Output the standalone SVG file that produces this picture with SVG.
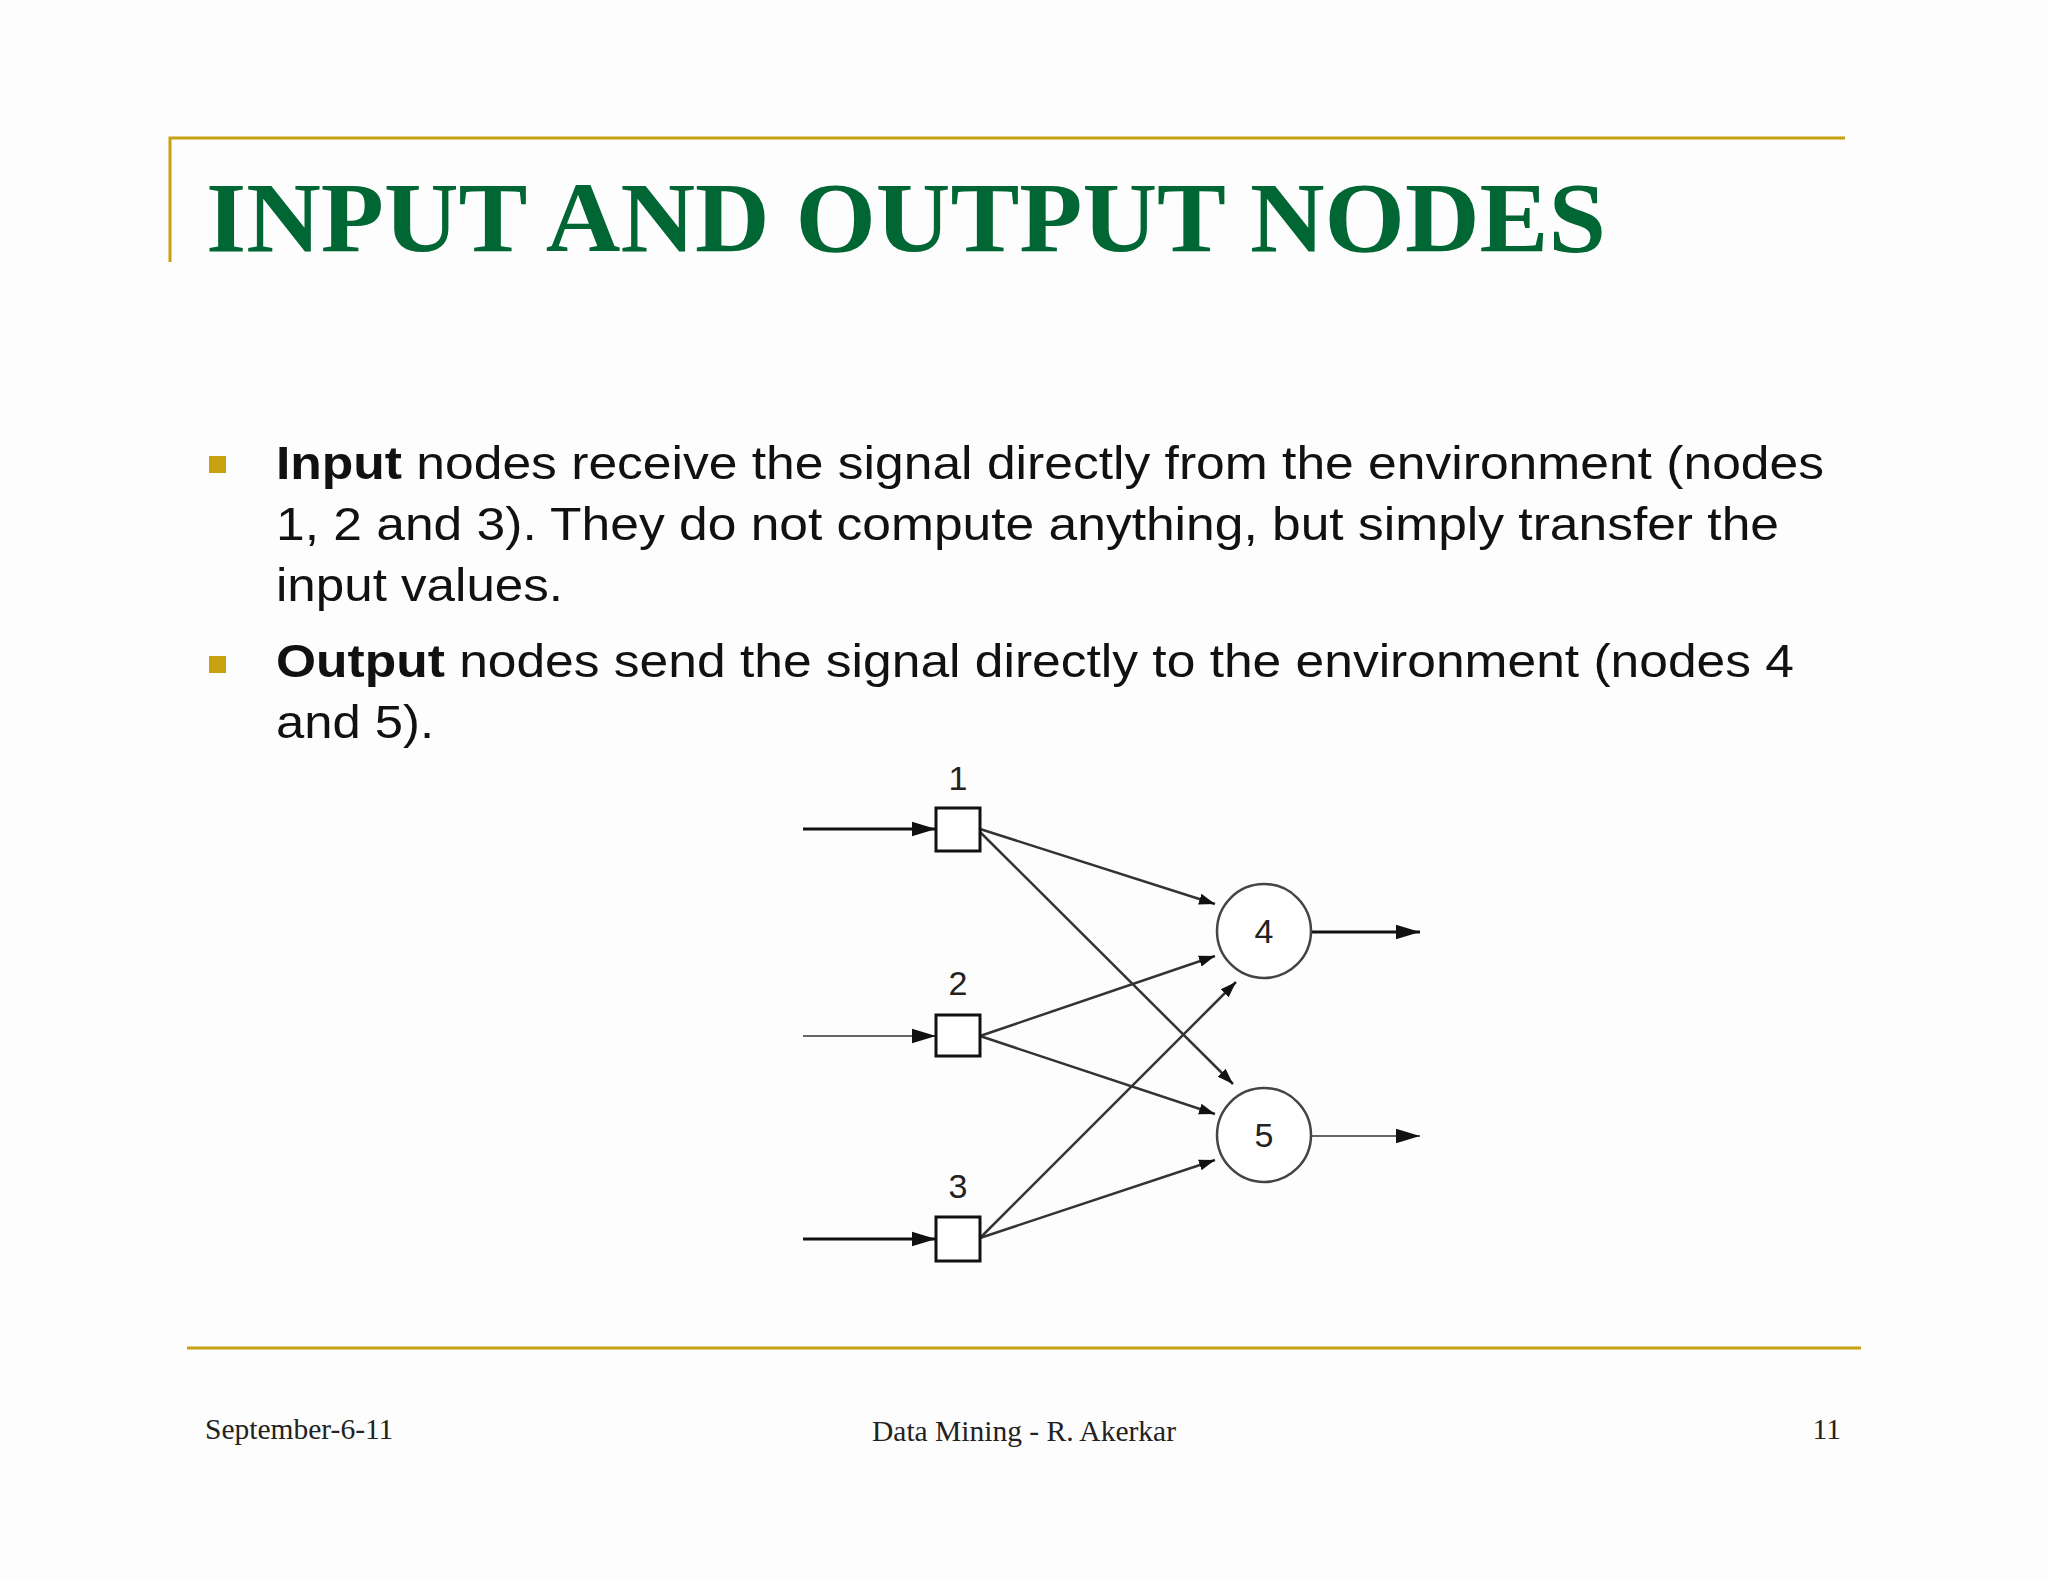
<svg xmlns="http://www.w3.org/2000/svg" width="2048" height="1582" viewBox="0 0 2048 1582">
<style>
.rule{stroke:#C9A010;stroke-width:3;fill:none}
.body{font-family:"Liberation Sans",Arial,sans-serif;font-size:47px;fill:#111}
.foot{font-family:"Liberation Serif","Times New Roman",serif;font-size:29.5px;fill:#222}
.lbl{font-family:"Liberation Sans",Arial,sans-serif;font-size:34px;fill:#222;text-anchor:middle}
.box{fill:#fff;stroke:#111;stroke-width:3}
.circ{fill:#fff;stroke:#444;stroke-width:2.5}
.e{stroke:#333;stroke-width:2.5;fill:none;marker-end:url(#ah)}
</style>
<defs>
<marker id="ah" viewBox="0 0 10 10" refX="10" refY="5" markerWidth="16" markerHeight="16" markerUnits="userSpaceOnUse" orient="auto"><path d="M0,1.5 L10,5 L0,8.5 z" fill="#111"/></marker>
<marker id="ahb" viewBox="0 0 10 10" refX="10" refY="5" markerWidth="24" markerHeight="24" markerUnits="userSpaceOnUse" orient="auto"><path d="M0,2 L10,5 L0,8 z" fill="#111"/></marker>
</defs>
<rect width="2048" height="1582" fill="#fdfdfd"/>
<path class="rule" d="M170,262 V138 H1845"/>
<text x="206" y="251" font-family="'Liberation Serif','Times New Roman',serif" font-weight="bold" font-size="100" fill="#006633" textLength="1400" lengthAdjust="spacingAndGlyphs">INPUT AND OUTPUT NODES</text>
<rect x="209" y="456" width="17" height="17" fill="#C9A010"/>
<rect x="209" y="656" width="17" height="17" fill="#C9A010"/>
<text class="body" x="276" y="479" textLength="1548" lengthAdjust="spacingAndGlyphs"><tspan font-weight="bold">Input</tspan> nodes receive the signal directly from the environment (nodes</text>
<text class="body" x="276" y="540" textLength="1503" lengthAdjust="spacingAndGlyphs">1, 2 and 3). They do not compute anything, but simply transfer the</text>
<text class="body" x="276" y="601" textLength="287" lengthAdjust="spacingAndGlyphs">input values.</text>
<text class="body" x="276" y="677" textLength="1518" lengthAdjust="spacingAndGlyphs"><tspan font-weight="bold">Output</tspan> nodes send the signal directly to the environment (nodes 4</text>
<text class="body" x="276" y="738" textLength="158" lengthAdjust="spacingAndGlyphs">and 5).</text>
<g id="connectors">
<line x1="803" y1="829" x2="936" y2="829" stroke="#111" stroke-width="3" marker-end="url(#ahb)"/>
<line x1="803" y1="1036" x2="936" y2="1036" stroke="#666" stroke-width="2" marker-end="url(#ahb)"/>
<line x1="803" y1="1239" x2="936" y2="1239" stroke="#111" stroke-width="3" marker-end="url(#ahb)"/>
<line class="e" x1="980" y1="829" x2="1215" y2="904"/>
<line class="e" x1="980" y1="832" x2="1233" y2="1084"/>
<line class="e" x1="980" y1="1036" x2="1215" y2="956"/>
<line class="e" x1="980" y1="1036" x2="1215" y2="1114"/>
<line class="e" x1="980" y1="1238" x2="1236" y2="982"/>
<line class="e" x1="980" y1="1238" x2="1215" y2="1160"/>
<line x1="1311" y1="932" x2="1420" y2="932" stroke="#111" stroke-width="3" marker-end="url(#ahb)"/>
<line x1="1311" y1="1136" x2="1420" y2="1136" stroke="#666" stroke-width="2" marker-end="url(#ahb)"/>
</g>
<g id="n1"><rect class="box" x="936" y="808" width="44" height="43"/><text class="lbl" x="958" y="790">1</text></g>
<g id="n2"><rect class="box" x="936" y="1015" width="44" height="41"/><text class="lbl" x="958" y="995">2</text></g>
<g id="n3"><rect class="box" x="936" y="1217" width="44" height="44"/><text class="lbl" x="958" y="1198">3</text></g>
<g id="n4"><circle class="circ" cx="1264" cy="931" r="47"/><text class="lbl" x="1264" y="943">4</text></g>
<g id="n5"><circle class="circ" cx="1264" cy="1135" r="47"/><text class="lbl" x="1264" y="1147">5</text></g>
<line class="rule" x1="187" y1="1348" x2="1861" y2="1348"/>
<text class="foot" x="205" y="1439">September-6-11</text>
<text class="foot" x="1024" y="1441" text-anchor="middle">Data Mining - R. Akerkar</text>
<text class="foot" x="1841" y="1439" text-anchor="end">11</text>
</svg>
